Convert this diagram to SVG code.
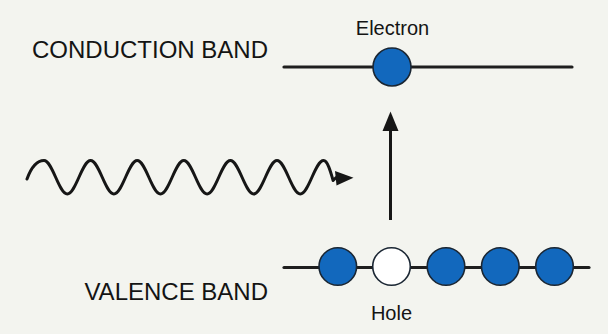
<svg xmlns="http://www.w3.org/2000/svg" width="608" height="334" viewBox="0 0 608 334">
  <defs>
    <style>
      .lbl { font-family: "Liberation Sans", Arial, sans-serif; fill: #141414; }
      .big { font-size: 24px; }
      .small { font-size: 20px; }
      .band { stroke: #1e1e1e; stroke-width: 3.2; stroke-linecap: round; fill: none; }
      .e { fill: #1268bd; stroke: #1a2633; stroke-width: 1.6; }
      .h { fill: #ffffff; stroke: #1a2633; stroke-width: 1.6; }
      .wire { stroke: #161616; stroke-width: 3; fill: none; stroke-linecap: round; stroke-linejoin: round; }
      .head { fill: #161616; }
    </style>
  </defs>
  <rect x="0" y="0" width="608" height="334" fill="#f3f4ef"/>

  <g id="conduction-band">
    <text class="lbl big" x="268" y="57.5" text-anchor="end">CONDUCTION BAND</text>
    <line class="band" x1="284" y1="67" x2="572" y2="67"/>
  </g>

  <g id="electron">
    <text class="lbl small" x="392.5" y="35" text-anchor="middle">Electron</text>
    <circle class="e" cx="392" cy="67" r="19"/>
  </g>

  <g id="valence-band">
    <text class="lbl big" x="268" y="300" text-anchor="end">VALENCE BAND</text>
    <line class="band" x1="284" y1="267.5" x2="589" y2="267.5"/>
  </g>

  <g id="valence-electron-1"><circle class="e" cx="337.8" cy="266.5" r="18.8"/></g>
  <g id="hole">
    <circle class="h" cx="391.5" cy="266.5" r="18.8"/>
    <text class="lbl small" x="391.5" y="319.5" text-anchor="middle">Hole</text>
  </g>
  <g id="valence-electron-2"><circle class="e" cx="446" cy="266.5" r="18.8"/></g>
  <g id="valence-electron-3"><circle class="e" cx="500.3" cy="266.5" r="18.8"/></g>
  <g id="valence-electron-4"><circle class="e" cx="554.5" cy="266.5" r="18.8"/></g>

  <g id="connectors">
    <path id="photon" class="wire" d="M27,179 C31,168 37,160.5 44,160.5 C52.47,160.5 58.83,194 67.3,194 s14.83,-33.5 23.3,-33.5 s14.83,33.5 23.3,33.5 s14.83,-33.5 23.3,-33.5 s14.83,33.5 23.3,33.5 s14.83,-33.5 23.3,-33.5 s14.83,33.5 23.3,33.5 s14.83,-33.5 23.3,-33.5 s14.83,33.5 23.3,33.5 s14.83,-33.5 23.3,-33.5 s14.83,33.5 23.3,33.5 s14.83,-33.5 23.3,-33.5 c4,0 7,11 9.5,20 l3,-3"/>
    <path id="photon-head" class="head" d="M335,171 L353.5,177.8 L336.5,185.5 z"/>
    <line id="excitation" x1="390.5" y1="220" x2="390.5" y2="130" stroke="#161616" stroke-width="3"/>
    <path id="excitation-head" class="head" d="M390.5,111.5 L398.5,131 L382.5,131 z"/>
  </g>
</svg>
